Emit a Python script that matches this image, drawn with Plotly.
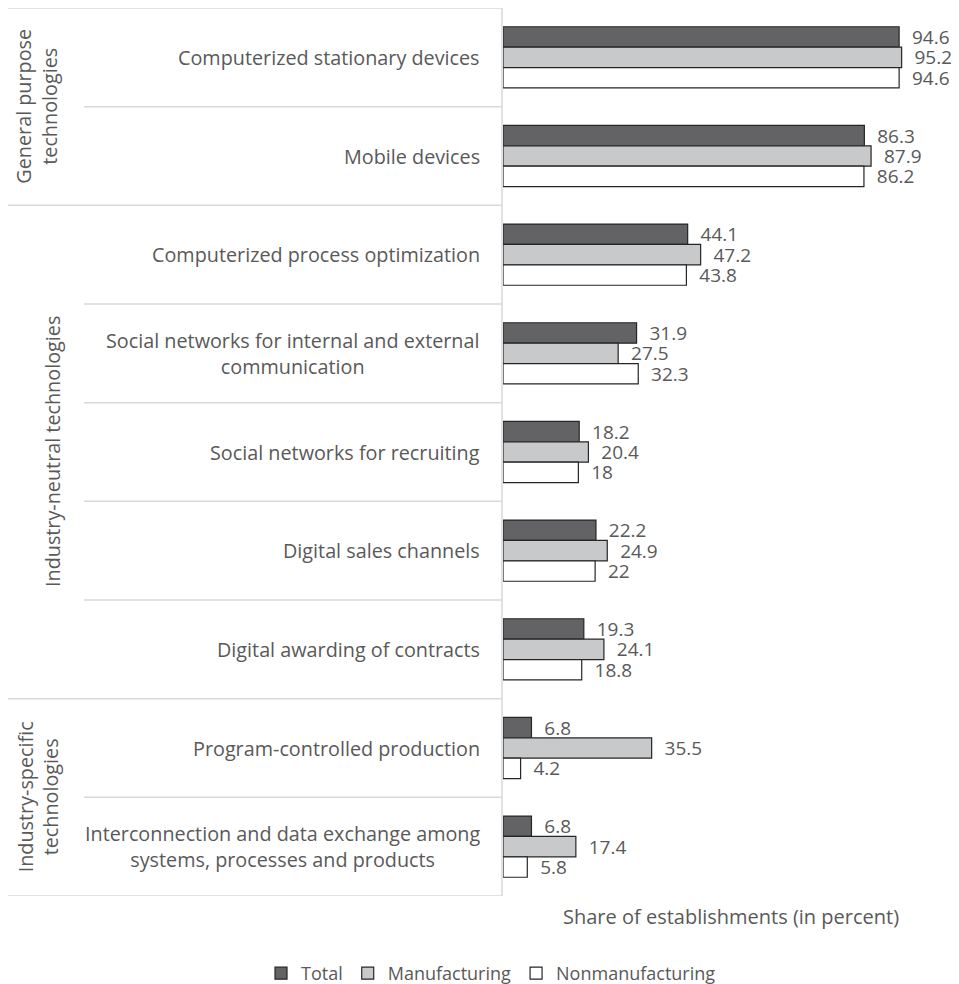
import plotly.graph_objects as go

categories = [
    "Computerized stationary devices",
    "Mobile devices",
    "Computerized process optimization",
    "Social networks for internal and external<br>communication",
    "Social networks for recruiting",
    "Digital sales channels",
    "Digital awarding of contracts",
    "Program-controlled production",
    "Interconnection and data exchange among<br>systems, processes and products",
]
total = [94.6, 86.3, 44.1, 31.9, 18.2, 22.2, 19.3, 6.8, 6.8]
manufacturing = [95.2, 87.9, 47.2, 27.5, 20.4, 24.9, 24.1, 35.5, 17.4]
nonmanufacturing = [94.6, 86.2, 43.8, 32.3, 18, 22, 18.8, 4.2, 5.8]
series_names = ["Total", "Manufacturing", "Nonmanufacturing"]
groups = [
    ("General purpose<br>technologies", 0, 1),
    ("Industry-neutral technologies", 2, 6),
    ("Industry-specific<br>technologies", 7, 8),
]
x_title = "Share of establishments (in percent)"

# page offset (browser body margin)
OFF = 8
W, H = 959 - OFF, 984 - OFF
PLOT_L, PLOT_T, PLOT_B = 503, 8, 896       # in reference page pixels
L, R, T, B = PLOT_L - OFF, 0, PLOT_T - OFF, 984 - PLOT_B
PW = W - L - R
PH = PLOT_B - PLOT_T
TXT = "#595959"
GRID = "#d9d9d9"
FONT = "Open Sans"

fills = ["#636365", "#c8c9cb", "#ffffff"]
fig = go.Figure()
for name, vals, col in zip(series_names, [total, manufacturing, nonmanufacturing], fills):
    fig.add_trace(go.Bar(
        y=categories, x=vals, orientation="h", name=name,
        marker=dict(color=col, line=dict(color="#262626", width=1.2)),
        text=[f"\u00a0\u00a0{v:g}" for v in vals], textposition="outside",
        textfont=dict(family=FONT, size=19, color=TXT),
        cliponaxis=False, constraintext="none",
    ))

def px2paper(px):
    return (px - PLOT_L) / PW

shapes = []
n = len(categories)
group_edges = set()
for _, a, b in groups:
    group_edges.add(a - 0.5)
    group_edges.add(b + 0.5)
for i in range(n + 1):
    yb = i - 0.5
    x0 = 5 if yb in group_edges else 84
    shapes.append(dict(type="line", xref="paper", yref="y", x0=px2paper(x0), x1=px2paper(502),
                       y0=yb, y1=yb, line=dict(color=GRID, width=1.5)))
shapes.append(dict(type="line", xref="paper", yref="y", x0=px2paper(502), x1=px2paper(502),
                   y0=-0.5, y1=n - 0.5, line=dict(color=GRID, width=1.5)))

annotations = []
for i, c in enumerate(categories):
    annotations.append(dict(xref="paper", yref="y", x=0, y=i, xanchor="right", xshift=-21,
                            text=c, showarrow=False, align="center",
                            font=dict(family=FONT, size=19.8, color=TXT)))
gx = [37, 52, 38]
for (g, a, b), px in zip(groups, gx):
    annotations.append(dict(xref="paper", yref="y", x=0, y=(a + b) / 2, xanchor="center",
                            yanchor="middle", xshift=px - PLOT_L, text=g, showarrow=False,
                            textangle=-90, align="center",
                            font=dict(family=FONT, size=19.8, color=TXT)))
annotations.append(dict(xref="paper", yref="paper", x=0.5, y=0, yanchor="top", yshift=-5,
                        text=x_title, showarrow=False,
                        font=dict(family=FONT, size=20, color=TXT)))

fig.update_layout(
    width=W, height=H, margin=dict(l=L, r=R, t=T, b=B, autoexpand=False),
    paper_bgcolor="white", plot_bgcolor="white",
    barmode="group", bargap=0.38, bargroupgap=0,
    xaxis=dict(range=[0, 108.9], showgrid=False, zeroline=False, showticklabels=False,
               showline=False, fixedrange=True),
    yaxis=dict(autorange=False, range=[n - 0.5, -0.5], showticklabels=False, showgrid=False,
               zeroline=False, showline=False),
    shapes=shapes, annotations=annotations,
    legend=dict(orientation="h", xref="paper", yref="paper",
                x=px2paper(261), xanchor="left",
                y=-(955 - PLOT_B) / PH, yanchor="top",
                font=dict(family=FONT, size=18, color=TXT),
                itemwidth=30, traceorder="normal"),
    showlegend=True,
)
fig.write_html("out.html")
